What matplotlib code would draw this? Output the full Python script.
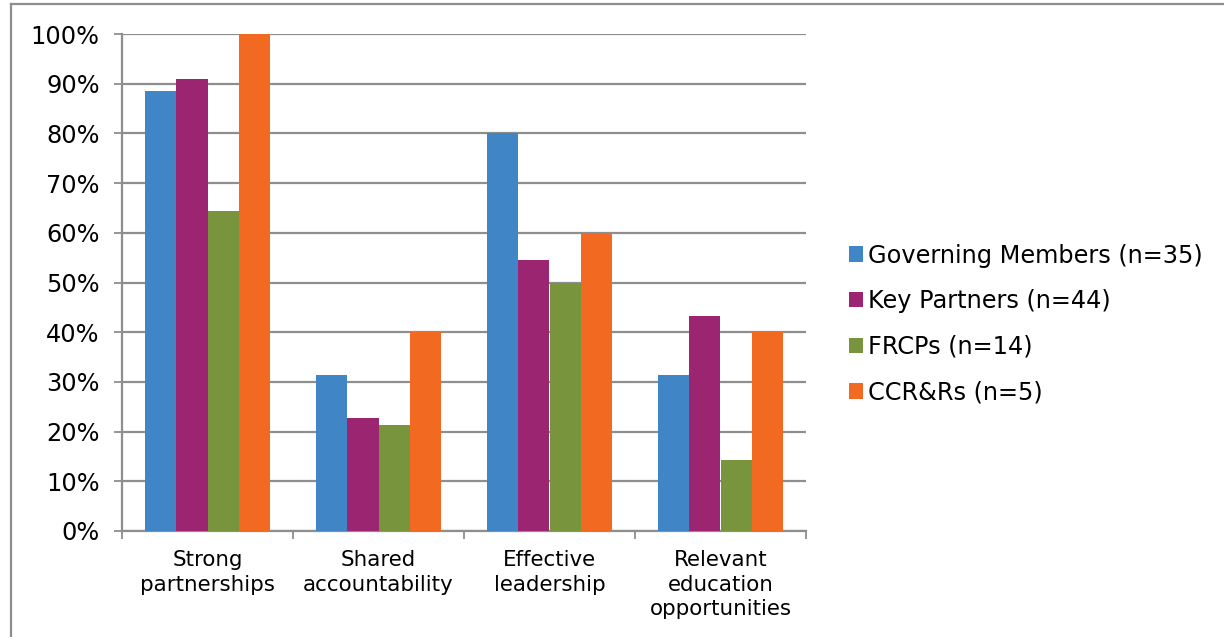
import matplotlib
matplotlib.use("Agg")
import matplotlib.pyplot as plt
import numpy as np
from matplotlib.lines import Line2D
from matplotlib.patches import Patch
from matplotlib.ticker import PercentFormatter

# ---- data -------------------------------------------------------------
categories = ["Strong\npartnerships", "Shared\naccountability",
              "Effective\nleadership", "Relevant\neducation\nopportunities"]
groups = ["Governing Members (n=35)", "Key Partners (n=44)",
          "FRCPs (n=14)", "CCR&Rs (n=5)"]

governing = [88.6, 31.4, 80.0, 31.4]
partners = [90.9, 22.7, 54.5, 43.2]
frcps = [64.3, 21.4, 50.0, 14.3]
ccrrs = [100.0, 40.0, 60.0, 40.0]

colors = ["#4085C5", "#9B2570", "#78943C", "#F26A22"]
grid_c = "#8E8E8E"

plt.rcParams["font.family"] = "DejaVu Sans"

# ---- figure -----------------------------------------------------------
W, H = 1224, 637
fig = plt.figure(figsize=(W / 100, H / 100), dpi=100, facecolor="white")
ax = fig.add_axes([122 / W, 1 - 531 / H, (806 - 122) / W, (531 - 34) / H])

x = np.arange(len(categories))
bw = 0.182
series = [governing, partners, frcps, ccrrs]
for k, (vals, c) in enumerate(zip(series, colors)):
    ax.bar(x + (k - 1.5) * bw, vals, width=bw, color=c, zorder=3,
           edgecolor="none")

ax.set_xlim(-0.5, len(categories) - 0.5)
ax.set_ylim(0, 100)
ax.set_yticks(np.arange(0, 101, 10))
ax.yaxis.set_major_formatter(PercentFormatter(decimals=0))
ax.grid(axis="y", color=grid_c, linewidth=1.6, zorder=0)
ax.set_axisbelow(True)

# category boundaries carry the tick marks, labels sit at centres
ax.set_xticks(np.arange(-0.5, len(categories), 1.0))
ax.set_xticklabels([])
ax.set_xticks(x, minor=True)
ax.set_xticklabels(categories, minor=True, fontsize=15.4, linespacing=1.27)
ax.tick_params(axis="x", which="minor", length=0, pad=14)
ax.tick_params(axis="x", which="major", length=6, width=1.3, color=grid_c)
ax.tick_params(axis="y", length=6, width=1.3, color=grid_c, labelsize=17.3,
               pad=10)

for side in ["top", "right"]:
    ax.spines[side].set_visible(False)
for side in ["left", "bottom"]:
    ax.spines[side].set_color(grid_c)
    ax.spines[side].set_linewidth(1.6)

handles = [Patch(facecolor=c, edgecolor="none") for c in colors]
fig.legend(handles, groups, loc="center left",
           bbox_to_anchor=(839 / W, 1 - 324 / H), frameon=False,
           fontsize=17.3, handlelength=0.6, handleheight=0.6,
           handletextpad=0.2, labelspacing=0.9, borderaxespad=0)

# outer frame (left and top edges)
fig.add_artist(Line2D([11 / W, 11 / W], [0, 1 - 4 / H], transform=fig.transFigure,
                      color=grid_c, linewidth=1.6))
fig.add_artist(Line2D([11 / W, 1], [1 - 4 / H, 1 - 4 / H], transform=fig.transFigure,
                      color=grid_c, linewidth=1.6))

fig.savefig("out.png", dpi=100, facecolor="white")
